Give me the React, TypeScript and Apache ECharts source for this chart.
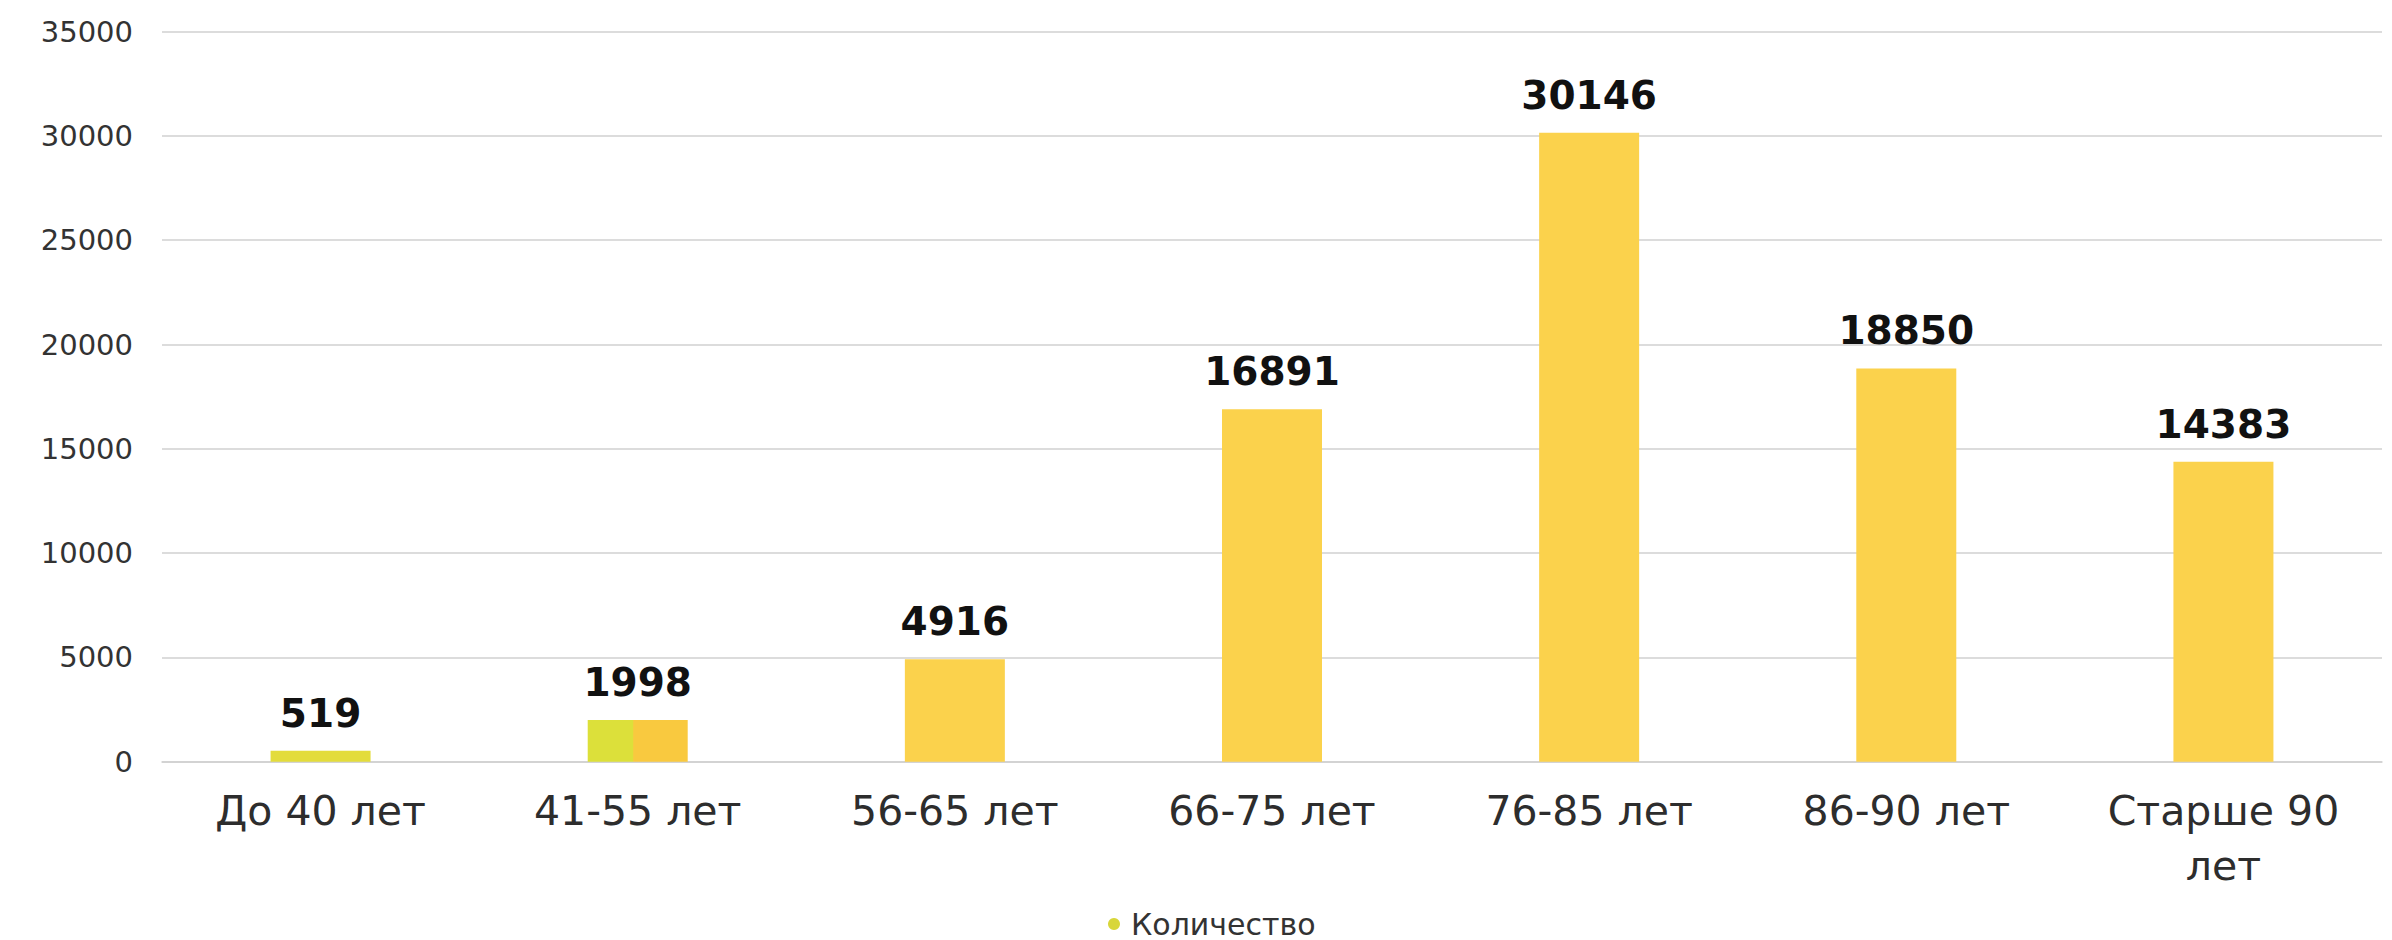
import React, { useEffect, useRef } from "react";
import * as echarts from "echarts";

const categories: string[] = [
  "До 40 лет",
  "41-55 лет",
  "56-65 лет",
  "66-75 лет",
  "76-85 лет",
  "86-90 лет",
  "Старше 90\nлет",
];
const counts: number[] = [519, 1998, 4916, 16891, 30146, 18850, 14383];
const seriesName = "Количество";
const yTicks = { min: 0, max: 35000, interval: 5000 };

export default function App() {
  const ref = useRef<HTMLDivElement>(null);

  useEffect(() => {
    if (!ref.current) return;
    const chart = echarts.init(ref.current, undefined, { renderer: "svg" });
    const barColor = "#FBD24C";
    const itemColor = (p: any) => {
      if (p.dataIndex === 0) return "#E3DC3C";
      if (p.dataIndex === 1)
        return new echarts.graphic.LinearGradient(0, 0, 1, 0, [
          { offset: 0, color: "#DCE03A" },
          { offset: 0.45, color: "#DCE03A" },
          { offset: 0.46, color: "#F9C93F" },
          { offset: 1, color: "#F9C93F" },
        ]);
      return barColor;
    };
    chart.setOption({
      animation: false,
      backgroundColor: "#ffffff",
      grid: { left: 162, right: 10, top: 31.6, bottom: 178.3, containLabel: false },
      legend: {
        show: true,
        top: 904,
        left: 1103,
        icon: "circle",
        itemWidth: 12,
        itemHeight: 12,
        data: [{ name: seriesName, itemStyle: { color: "#D8D63A" } }],
        textStyle: {
          fontFamily: "DejaVu Sans",
          fontSize: 30,
          color: "#333333",
          padding: [0, 0, 0, 6],
        },
      },
      xAxis: {
        type: "category",
        data: categories,
        axisTick: { show: false },
        axisLine: { show: true, lineStyle: { color: "#d0d0d0", width: 1.5 } },
        axisLabel: {
          margin: 22,
          fontFamily: "DejaVu Sans",
          fontSize: 41,
          color: "#2d2d2d",
          lineHeight: 55,
          interval: 0,
        },
      },
      yAxis: {
        type: "value",
        min: yTicks.min,
        max: yTicks.max,
        interval: yTicks.interval,
        axisLine: { show: false },
        axisTick: { show: false },
        splitLine: { show: true, lineStyle: { color: "#d0d0d0", width: 1.5 } },
        axisLabel: {
          margin: 29,
          fontFamily: "DejaVu Sans",
          fontSize: 29,
          color: "#333333",
          formatter: (v: number) => String(v),
        },
      },
      series: [
        {
          name: seriesName,
          type: "bar",
          data: counts,
          barWidth: 100,
          itemStyle: { color: itemColor },
          label: {
            show: true,
            position: "top",
            distance: 18,
            fontFamily: "DejaVu Sans",
            fontWeight: "bold",
            fontSize: 39,
            color: "#111111",
          },
        },
      ],
    });
    return () => chart.dispose();
  }, []);

  return (
    <div
      ref={ref}
      style={{ position: "absolute", left: 0, top: 0, width: 2392, height: 940 }}
    />
  );
}
